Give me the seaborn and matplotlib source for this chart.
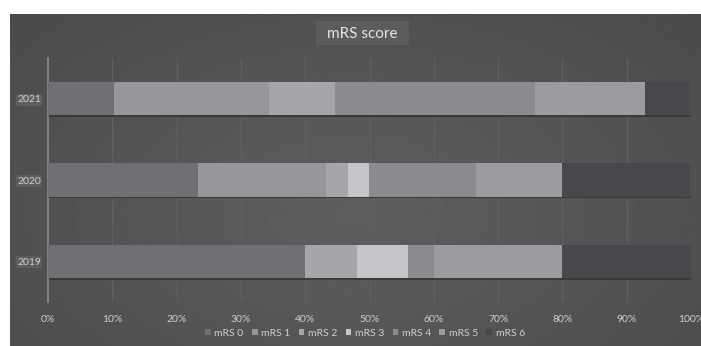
import numpy as np
import pandas as pd
import matplotlib
matplotlib.use("Agg")
import matplotlib.pyplot as plt
from matplotlib.patches import Patch, FancyBboxPatch
import seaborn as sns

# ---- data (percent of patients per mRS grade) ----
years = ["2021", "2020", "2019"]
categories = ["mRS 0", "mRS 1", "mRS 2", "mRS 3", "mRS 4", "mRS 5", "mRS 6"]
mrs0 = [10.3, 23.3, 40.0]
mrs1 = [24.1, 20.0, 0.0]
mrs2 = [10.3, 3.3, 8.0]
mrs3 = [0.0, 3.3, 8.0]
mrs4 = [31.0, 16.7, 4.0]
mrs5 = [17.2, 13.3, 20.0]
mrs6 = [6.9, 20.0, 20.0]
xticks = [0, 10, 20, 30, 40, 50, 60, 70, 80, 90, 100]
xtick_labels = ["0%", "10%", "20%", "30%", "40%", "50%", "60%", "70%", "80%", "90%", "100%"]
title = "mRS score"

colors = ["#6f7074", "#96979b", "#a5a6aa", "#c5c6c9", "#8a8b8f", "#9b9ca0", "#47484b"]

sns.set_theme(style="white")
plt.rcParams["font.family"] = ["Lato", "DejaVu Sans"]

W, H = 701, 346
fig = plt.figure(figsize=(W / 100, H / 100), dpi=100, facecolor="white")

# background panel with soft gradient
bg = fig.add_axes([10 / W, 0, 1 - 10 / W, 332 / H])
yy, xx = np.mgrid[0:1:200j, 0:1:400j]
r = np.sqrt(((xx - 0.5) / 0.8) ** 2 + ((yy - 0.4) / 1.0) ** 2)
img = 0.37 - 0.09 * np.clip(r, 0, 1.2)
bg.imshow(img, cmap="gray", vmin=0, vmax=1, aspect="auto", extent=[0, 1, 0, 1], origin="lower")
bg.set_axis_off()

# title box
fig.patches.append(FancyBboxPatch((316 / W, 1 - 45 / H), 93 / W, 24 / H,
                                  boxstyle="square,pad=0", transform=fig.transFigure,
                                  facecolor="#5c5c5c", edgecolor="none", zorder=1))
fig.text(362 / W, 1 - 34 / H, title, ha="center", va="center", color="#e6e6e6",
         fontsize=11, zorder=2)

ax = fig.add_axes([48 / W, 1 - 302 / H, 643 / W, 244 / H])
ax.patch.set_alpha(0)

df = pd.DataFrame({"year": years, **{c: v for c, v in zip(categories, [mrs0, mrs1, mrs2, mrs3, mrs4, mrs5, mrs6])}})
cum = df[categories].cumsum(axis=1)

for i in range(len(categories) - 1, -1, -1):
    sns.barplot(x=cum[categories[i]], y=df["year"], orient="h", order=years,
                color=colors[i], saturation=1, width=0.41, edgecolor="none",
                linewidth=0, ax=ax, zorder=3)

# subtle shadow under bars
for k in range(len(years)):
    ax.plot([0, 100], [k + 0.215, k + 0.215], color="#3a3a3a", lw=1.5, zorder=2,
            solid_capstyle="butt")

ax.set_xlim(0, 100)
ax.set_ylim(2.5, -0.5)
ax.set_xticks(xticks)
ax.set_xticklabels(xtick_labels)
ax.set_xlabel("")
ax.set_ylabel("")
ax.tick_params(axis="both", length=0, labelsize=7.5, colors="#cfcfcf")
ax.tick_params(axis="x", pad=9)
ax.tick_params(axis="y", pad=5)
for t in ax.get_yticklabels():
    t.set_bbox(dict(facecolor="#5e5e5e", edgecolor="none", pad=1))
for x in xticks[1:]:
    ax.axvline(x, color="#606060", lw=0.9, zorder=1)
for s in ["top", "right", "bottom"]:
    ax.spines[s].set_visible(False)
ax.spines["left"].set_color("#8a8a8a")
ax.spines["left"].set_linewidth(1.2)
ax.grid(False)

handles = [Patch(facecolor=c, edgecolor="none", label=l) for c, l in zip(colors, categories)]
fig.legend(handles=handles, loc="center", bbox_to_anchor=(365 / W, 1 - 333 / H), ncol=7,
           frameon=False, fontsize=7.5, handlelength=0.55, handleheight=0.55,
           handletextpad=0.35, columnspacing=0.8, labelcolor="#cfcfcf")

fig.savefig("out.png", dpi=100, facecolor="white")
